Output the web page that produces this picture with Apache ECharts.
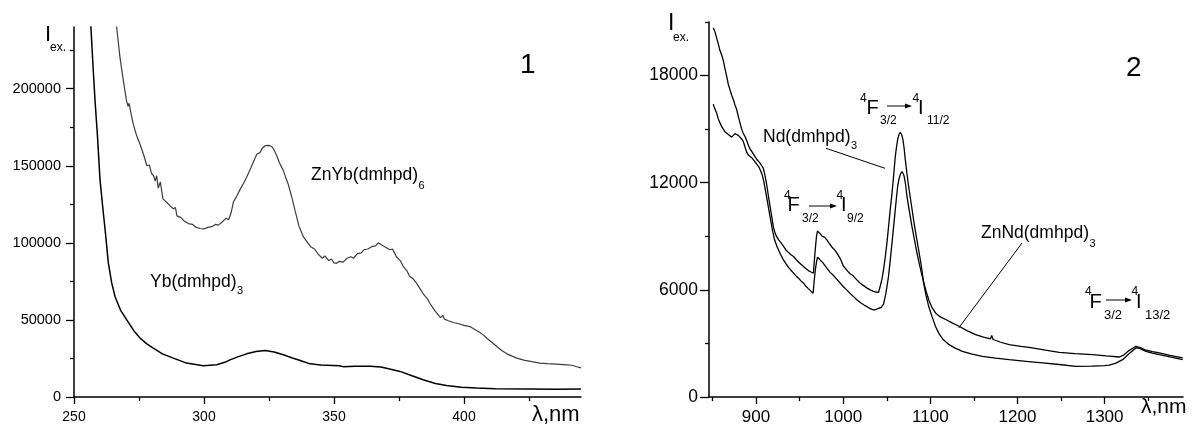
<!DOCTYPE html>
<html><head><meta charset="utf-8">
<script src="https://cdn.jsdelivr.net/npm/echarts@6/dist/echarts.min.js"></script>
<style>html,body{margin:0;padding:0;background:#fff}#c{width:1192px;height:426px}</style>
</head><body><div id="c"></div>
<script>
// ---------- Panel 1 data ----------
const ybWl = [256.0,256.5,257.3,258.1,259.0,260.0,261.3,262.0,263.2,264.5,265.8,268.0,270.3,273.0,275.4,278.0,280.5,284.0,288.2,293.3,299.7,304.9,308.0,310.0,313.0,316.4,320.0,323.5,327.0,330.5,334.0,337.0,340.8,345.0,352.0,353.5,358.0,364.0,368.0,371.0,375.4,380.0,384.3,389.0,393.3,399.0,404.9,412.0,425.4,435.0,445.0];
const ybI  = [252000,240000,215000,192000,170000,141000,119000,108000,87000,74000,65000,56000,50000,43000,38200,34500,31700,28000,25200,22000,20300,20900,22500,24100,26000,28000,29500,30200,29200,27400,25300,23700,21500,20700,20300,19700,19900,20000,19500,18300,16600,13800,11200,8800,7500,6400,5800,5400,5200,5100,5200];

const znybWl = [266.0,266.4,267.7,269.0,270.2,270.8,271.2,271.8,272.8,274.0,275.5,277.0,278.0,279.0,279.8,280.6,281.2,281.8,282.4,283.2,284.2,285.5,287.0,288.2,289.0,289.6,291.0,292.5,294.0,295.5,297.0,298.5,300.0,301.5,303.0,304.5,305.5,307.0,308.5,309.5,310.5,311.3,312.5,314.0,315.5,316.4,318.0,319.0,320.3,321.5,322.5,323.5,325.0,326.0,326.7,328.0,329.0,330.5,331.5,332.5,334.0,335.0,336.5,338.2,339.5,341.0,342.5,344.0,345.5,346.5,348.0,349.0,350.0,351.0,352.0,353.5,355.0,356.5,357.5,359.0,360.5,361.5,363.0,364.5,366.0,367.0,368.5,370.0,371.5,372.5,374.0,375.5,376.7,378.0,379.0,380.5,381.8,383.0,384.5,386.0,387.0,388.0,389.0,390.0,391.0,391.8,392.5,394.0,395.9,398.0,400.0,402.3,404.0,405.5,407.4,409.0,410.5,412.6,414.5,416.5,418.5,420.3,423.0,426.0,429.2,432.0,435.5,439.5,441.5,443.0,445.0];
const znybI  = [252000,240000,220000,205000,192000,188500,190500,185000,177000,170000,163500,156000,150000,150500,145000,143500,140000,143500,135500,139500,128500,126500,124000,122000,123000,117500,116500,114000,112500,112000,110000,109300,109000,110000,110500,112000,111500,113500,116000,115000,120000,126500,130000,135000,139500,142500,148500,152500,157500,158500,161500,163000,163200,162500,161000,156500,152000,147000,142000,137500,128000,121000,111000,104000,101000,97500,96000,92500,90000,91500,88500,89500,87000,86700,88000,87500,90000,91000,90000,93000,93500,95500,96000,97500,98000,100000,98500,97000,95500,96000,91000,88500,84500,82000,78500,76500,73700,70500,66500,63500,60500,58000,55500,53500,51500,53000,50500,49500,48300,47500,46500,45700,44000,42500,40300,37800,35800,32800,30200,28000,26500,25200,23900,22900,22000,21600,21300,20900,20600,19800,18900];

// ---------- Panel 2 data ----------
const ndWl = [850.9,852.5,854.8,856.5,858.6,860.5,862.4,864.3,866.3,868.2,870.1,872,874,875.8,877.8,879.7,881.6,883.5,885.4,887.3,889.3,891.2,893,895,896.9,899,901,903,904.6,906.5,908.4,910.3,912.2,914,916,918,920,922,924,926,928.5,931.4,934,937,940,943,946,949,951.5,954.4,957,960,963,965.9,967,968.2,969.4,970.5,971.6,973.5,976,978.5,981.3,984,987,990,992.8,995.5,998,1000,1001.2,1002.3,1005,1008,1011,1015.7,1019,1023,1027,1031,1034,1037,1040.6,1042.5,1044.5,1046.3,1048.2,1050.2,1052,1054,1056,1057.8,1059.8,1061.2,1062.5,1064,1065.5,1067,1068.6,1070,1071.3,1073.2,1075.1,1078,1080.8,1083.7,1086.6,1089.5,1092.3,1095,1098,1102,1106,1110,1115,1121.5,1128,1136.8,1148,1159.8,1175,1190.5,1210,1228.7,1248,1267,1285,1300,1305.4,1313,1320.7,1328,1336,1340,1347.5,1355,1362.9,1375,1389.7];
const ndI  = [20670,20500,20100,19800,19400,19150,18850,18400,17950,17500,17200,16900,16650,16350,16100,15700,15350,15000,14750,14600,14350,14100,13900,13750,13650,13450,13300,13200,13100,12950,12800,12400,11900,11300,10700,10100,9500,9150,8950,8800,8650,8450,8250,8100,7970,7870,7700,7550,7430,7310,7200,7080,7000,6940,7700,8400,9000,9300,9270,9150,9000,8950,8800,8600,8400,8250,8060,7850,7600,7350,7300,7220,7050,6900,6800,6560,6400,6250,6110,6000,5930,5880,5860,6200,6600,7120,7800,8620,9500,10490,11400,12350,13470,14000,14410,14700,14820,14700,14410,13900,13290,12500,11790,10850,9920,9050,8240,7400,6400,5700,5100,4500,3950,3550,3200,2930,2750,2560,2400,2280,2180,2090,2000,1910,1820,1720,1730,1760,1780,1900,2090,2420,2750,2720,2560,2460,2370,2250,2090];

const znndWl = [850.9,852.5,854.8,856.5,858.6,860.5,862.4,864.3,866.3,868.2,870.1,872,874,875.8,877.8,879.7,881.6,883.5,885.4,887.3,889.3,891.2,893,895,897,899,901,903,905,907,909,911,913,915,917,919,921,924,927.5,931.4,934.5,937.5,940,943,946,949,951.5,954.4,957,960,963,965.5,966.7,968,969.5,970.6,971.6,974,977,981.3,985,989,993,996.6,1000,1004,1008,1011.9,1016,1020,1024,1027.2,1031,1034.8,1038,1040.6,1043.5,1046.3,1049,1052,1054,1056,1058,1059.8,1061.2,1062.5,1064,1065.5,1067.5,1069,1070,1071.6,1073.2,1076,1078.9,1081.8,1084.7,1087.6,1090.5,1093.3,1096.2,1098.5,1102,1106,1111,1117.6,1125,1133,1142,1152,1161,1169,1170.5,1172,1180,1190.5,1204,1217.2,1232,1248,1266,1286.2,1302,1316.9,1322,1328,1336,1341,1347.5,1355,1362.9,1375,1389.7];
const znndI  = [16400,16150,15900,15600,15350,15150,15000,14850,14790,14700,14650,14550,14600,14750,14800,14650,14550,14450,14300,14000,13700,13550,13500,13400,13300,13150,13050,12900,12700,12450,12050,11500,10950,10400,9850,9300,8850,8430,8050,7680,7450,7250,7100,6940,6780,6640,6500,6380,6220,6070,5930,5810,6500,7100,7600,7830,7780,7650,7500,7220,6980,6800,6580,6380,6190,6000,5800,5620,5430,5280,5150,5060,4950,4880,4900,4970,5000,5200,5800,6740,7650,8620,9600,10490,11200,11790,12200,12450,12630,12500,12350,11900,11230,10400,9550,8800,8060,7400,6800,6250,5750,5400,5000,4710,4500,4340,4150,3960,3720,3490,3350,3250,3450,3220,3080,2930,2830,2750,2620,2500,2430,2370,2300,2240,2350,2600,2840,2770,2620,2540,2470,2330,2190];

// ---------- Tick values ----------
const x1Major = [250,300,350,400];
const x1Minor = [275,325,375,425];
const y1Major = [0,50000,100000,150000,200000];
const y1Minor = [25000,75000,125000,175000,225000];
const x2Major = [900,1000,1100,1200,1300];
const x2Minor = [850,950,1050,1150,1250,1350];
const y2Major = [0,6000,12000,18000];
const y2Minor = [3000,9000,15000,21000];

const F = '"Liberation Sans", Arial, Helvetica, sans-serif';
const zip = (a,b) => a.map((v,i)=>[v,b[i]]);
const mctx = document.createElement('canvas').getContext('2d');
function tw(s,size){ mctx.font = size+'px '+F; return mctx.measureText(s).width; }

function mainX(grid,min,max,major,fs,margin){
  return {gridIndex:grid,type:'value',min,max,position:'bottom',
    axisLine:{show:true,onZero:false,lineStyle:{color:'#000',width:1.5}},
    axisTick:{show:true,length:7,customValues:major,lineStyle:{color:'#000',width:1.3}},
    axisLabel:{show:true,customValues:major,color:'#000',fontSize:fs,fontFamily:F,margin,formatter:v=>String(v)},
    splitLine:{show:false}};
}
function minorX(grid,min,max,minor){
  return {gridIndex:grid,type:'value',min,max,position:'bottom',
    axisLine:{show:false,onZero:false},
    axisTick:{show:true,length:4,customValues:minor,lineStyle:{color:'#000',width:1.3}},
    axisLabel:{show:false},splitLine:{show:false}};
}
function mainY(grid,min,max,major,fs,margin,len){
  return {gridIndex:grid,type:'value',min,max,position:'left',
    axisLine:{show:true,onZero:false,lineStyle:{color:'#000',width:1.5}},
    axisTick:{show:true,length:len,customValues:major,lineStyle:{color:'#000',width:1.3}},
    axisLabel:{show:true,customValues:major,color:'#000',fontSize:fs,fontFamily:F,margin,formatter:v=>String(v)},
    splitLine:{show:false}};
}
function minorY(grid,min,max,minor){
  return {gridIndex:grid,type:'value',min,max,position:'left',
    axisLine:{show:false,onZero:false},
    axisTick:{show:true,length:4,customValues:minor,lineStyle:{color:'#000',width:1.3}},
    axisLabel:{show:false},splitLine:{show:false}};
}
function T(x,y,s,size){
  return {type:'text',x,y,z:100,silent:true,style:{text:s,fontSize:size,fontFamily:F,fill:'#000',align:'left',verticalAlign:'middle'}};
}
// main text followed by a subscript placed right after it
function TS(x,y,s,size,sub,subSize,dy){
  const w = tw(s,size);
  return [T(x,y,s,size), T(x+w+0.5,y+dy,sub,subSize)];
}
function L(x1,y1,x2,y2){
  return {type:'line',z:100,silent:true,shape:{x1,y1,x2,y2},style:{stroke:'#000',lineWidth:1}};
}
function AR(x1,x2,y){
  return [L(x1,y,x2-5,y),{type:'polygon',z:100,silent:true,shape:{points:[[x2,y],[x2-7,y-2.6],[x2-7,y+2.6]]},style:{fill:'#000'}}];
}

const graphics = [
  // panel 1
  T(45,35,'I',22), T(50,47.7,'ex.',12),
  T(520,65.5,'1',28),
  ...TS(311,175,'ZnYb(dmhpd)',17.5,'6',11,11),
  ...TS(150,282.5,'Yb(dmhpd)',17.5,'3',11,8),
  T(532,415,'λ,nm',22),
  // panel 2
  T(668,23.5,'I',23), T(673,37.4,'ex.',12),
  T(1126,68.5,'2',28),
  ...TS(763,137.5,'Nd(dmhpd)',17.5,'3',11,8.5),
  L(826,148.3,885,168.3),
  ...TS(981,233,'ZnNd(dmhpd)',17.5,'3',11,11),
  L(1022,243,958.7,328),
  T(1141,407.5,'λ,nm',21),
  // 4F3/2 -> 4I11/2
  T(860,99,'4',12), T(866.5,108,'F',20), T(880,121,'3/2',12),
  ...AR(887,912,106),
  T(912.5,99,'4',12), T(918,108,'I',20), T(927,121,'11/2',12),
  // 4F3/2 -> 4I9/2
  T(784,196,'4',12), T(787.5,205.5,'F',20), T(802,219,'3/2',12),
  ...AR(809,837,206),
  T(836.5,196,'4',12), T(841,205.5,'I',20), T(847,219,'9/2',12),
  // 4F3/2 -> 4I13/2
  T(1085,292,'4',12), T(1089.5,302.5,'F',20), T(1104,315.5,'3/2',13),
  ...AR(1106,1132,300),
  T(1131.5,292,'4',12), T(1136,302.5,'I',20), T(1145,315.5,'13/2',13)
];

const chart = echarts.init(document.getElementById('c'), null, {renderer:'canvas'});
chart.setOption({
  animation:false,
  backgroundColor:'#fff',
  grid:[
    {left:74,top:27,width:507,height:370},
    {left:709,top:22,width:474,height:375}
  ],
  xAxis:[
    mainX(0,250,445,x1Major,14,13.5),
    minorX(0,250,445,x1Minor),
    mainX(1,846,1390,x2Major,17,11.5),
    minorX(1,846,1390,x2Minor)
  ],
  yAxis:[
    mainY(0,0,240000,y1Major,14.5,13,8),
    minorY(0,0,240000,y1Minor),
    mainY(1,0,21000,y2Major,17.5,11,9),
    minorY(1,0,21000,y2Minor)
  ],
  series:[
    {type:'line',xAxisIndex:0,yAxisIndex:0,data:zip(ybWl,ybI),showSymbol:false,symbol:'none',clip:true,silent:true,lineStyle:{color:'#000',width:1.5}},
    {type:'line',xAxisIndex:0,yAxisIndex:0,data:zip(znybWl,znybI),showSymbol:false,symbol:'none',clip:true,silent:true,lineStyle:{color:'#3c3c3c',width:1.2}},
    {type:'line',xAxisIndex:2,yAxisIndex:2,data:zip(ndWl,ndI),showSymbol:false,symbol:'none',clip:true,silent:true,lineStyle:{color:'#000',width:1.3}},
    {type:'line',xAxisIndex:2,yAxisIndex:2,data:zip(znndWl,znndI),showSymbol:false,symbol:'none',clip:true,silent:true,lineStyle:{color:'#000',width:1.3}}
  ],
  graphic:graphics
});
</script>
</body></html>
